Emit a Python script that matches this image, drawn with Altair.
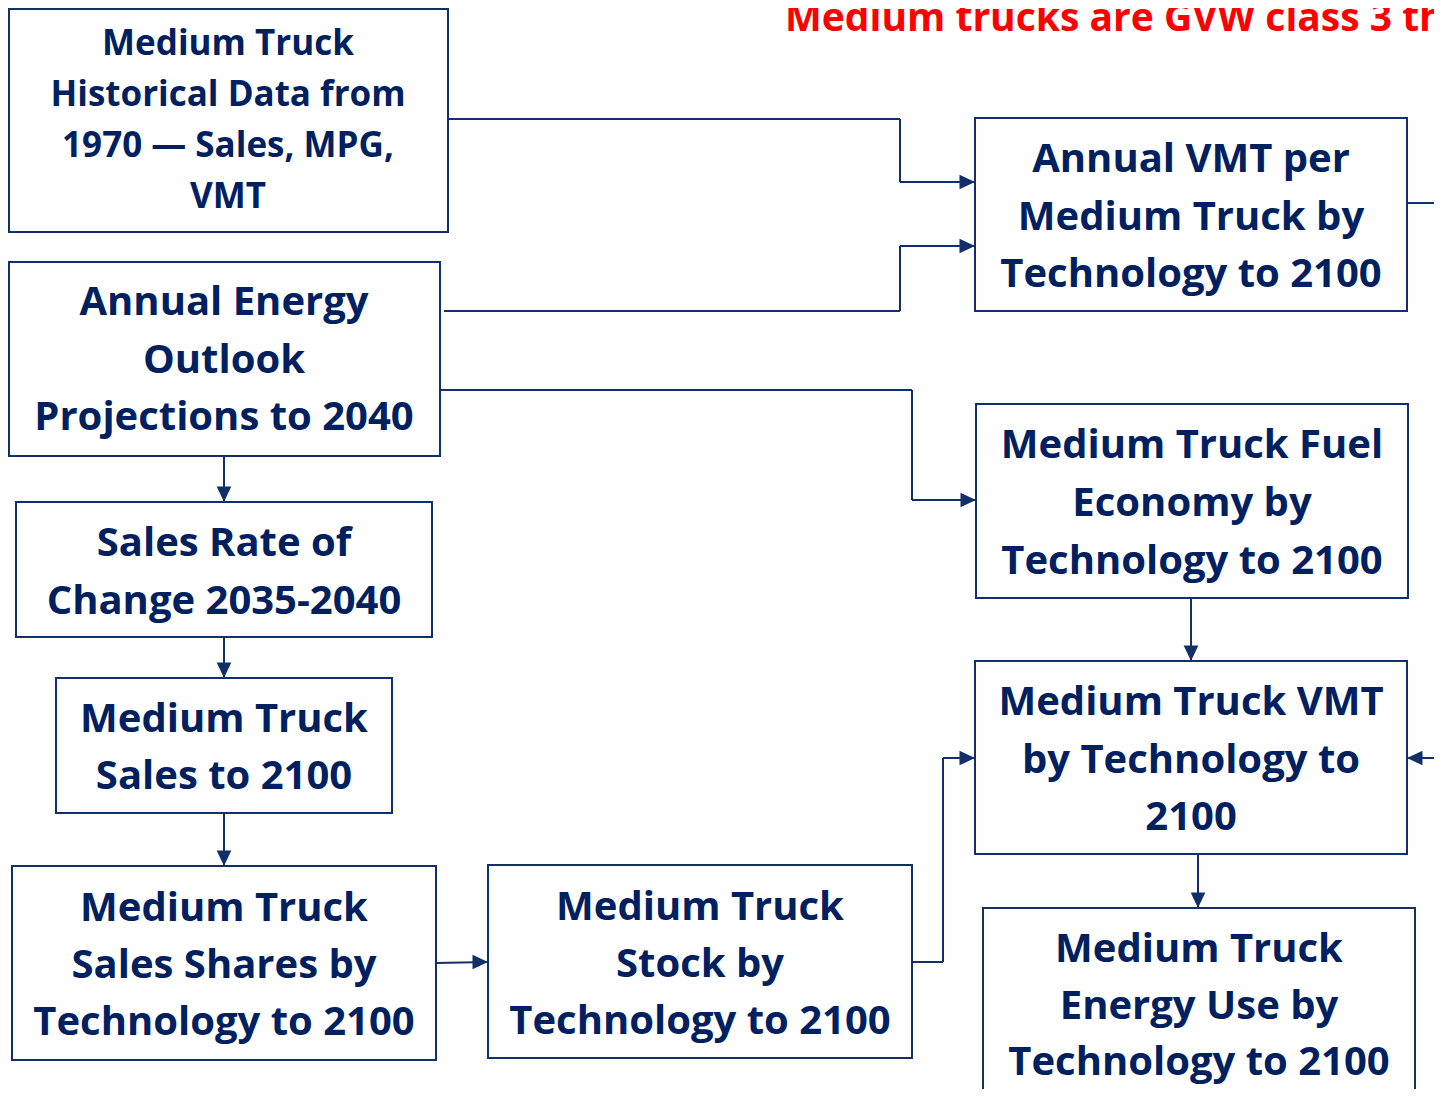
import altair as alt
import pandas as pd

# ---- Boxes (pixel layout of the flowchart) ----
box_x0 = [9, 9, 16, 56, 12, 488, 975, 976, 975, 983]
box_x1 = [448, 440, 432, 392, 436, 912, 1407, 1408, 1407, 1415]
box_y0 = [9, 262, 502, 678, 866, 865, 118, 404, 661, 908]
box_y1 = [232, 456, 637, 813, 1060, 1058, 311, 598, 854, 1120]
box_lines = [
    ["Medium Truck", "Historical Data from", "1970 \u2014 Sales, MPG,", "VMT"],
    ["Annual Energy", "Outlook", "Projections to 2040"],
    ["Sales Rate of", "Change 2035-2040"],
    ["Medium Truck", "Sales to 2100"],
    ["Medium Truck", "Sales Shares by", "Technology to 2100"],
    ["Medium Truck", "Stock by", "Technology to 2100"],
    ["Annual VMT per", "Medium Truck by", "Technology to 2100"],
    ["Medium Truck Fuel", "Economy by", "Technology to 2100"],
    ["Medium Truck VMT", "by Technology to", "2100"],
    ["Medium Truck", "Energy Use by", "Technology to 2100"],
]
text_cx = [228, 224, 224, 224, 224, 700, 1191, 1192, 1191, 1199]
text_base0 = [55, 315, 556, 732, 921, 920, 172, 458, 715, 962]
text_gap = [51, 57.5, 58, 57, 57, 57, 57.5, 58, 57.5, 56.5]
text_size = [35, 40, 40, 40, 40, 40, 40, 40, 40, 40]

# ---- Connectors: polylines, last point is where the arrow tip is ----
conn_points = [
    [(448, 119), (900, 119), (900, 182), (975, 182)],
    [(444, 311), (900, 311), (900, 246), (975, 246)],
    [(440, 390), (912, 390), (912, 500), (976, 500)],
    [(224, 456), (224, 502)],
    [(224, 637), (224, 678)],
    [(224, 813), (224, 866)],
    [(436, 963), (488, 962)],
    [(912, 962), (943, 962), (943, 758), (975, 758)],
    [(1191, 598), (1191, 661)],
    [(1198, 854), (1198, 908)],
    [(1407, 203), (1450, 203)],
    [(1450, 758), (1407, 758)],
]
conn_arrow = ["right", "right", "right", "down", "down", "down", "right", "right",
              "down", "down", None, "left"]

title_text = "Medium trucks are GVW class 3 through 6"
title_x = 785
title_y = 31

NAVY_TEXT = "#002060"
NAVY_LINE = "#132f6b"
FONT = "Open Sans"

boxes = pd.DataFrame({"x0": box_x0, "x1": box_x1, "y0": box_y0, "y1": box_y1})

rows = []
for i, lines in enumerate(box_lines):
    for j, ln in enumerate(lines):
        rows.append({"x": text_cx[i], "y": text_base0[i] + j * text_gap[i],
                     "t": ln, "size": text_size[i]})
texts = pd.DataFrame(rows)

segs = []
arrows = []
for pts, arr in zip(conn_points, conn_arrow):
    for (ax, ay), (bx, by) in zip(pts[:-1], pts[1:]):
        segs.append({"x": ax, "y": ay, "x2": bx, "y2": by})
    if arr:
        arrows.append({"x": pts[-1][0], "y": pts[-1][1], "dir": arr})
segs = pd.DataFrame(segs)
arrows = pd.DataFrame(arrows)

W, H = 1426, 1081
XS = alt.Scale(domain=[8, 8 + W])
YS = alt.Scale(domain=[8, 8 + H], reverse=True)


def X(f="x"):
    return alt.X(f"{f}:Q", scale=XS, axis=None)


def Y(f="y"):
    return alt.Y(f"{f}:Q", scale=YS, axis=None)


rect = alt.Chart(boxes).mark_rect(fill="white", stroke=NAVY_LINE, strokeWidth=2).encode(
    x=X("x0"), x2="x1:Q", y=Y("y0"), y2="y1:Q")

rules = alt.Chart(segs).mark_rule(color=NAVY_LINE, strokeWidth=2).encode(
    x=X("x"), y=Y("y"), x2="x2:Q", y2="y2:Q")

shape_paths = {
    "right": "M0,0L-2,-0.95L-2,0.95Z",
    "left": "M0,0L2,-0.95L2,0.95Z",
    "down": "M0,0L-0.95,-2L0.95,-2Z",
}
arrow_layers = []
for d, p in shape_paths.items():
    sub = arrows[arrows["dir"] == d]
    if len(sub):
        arrow_layers.append(
            alt.Chart(sub).mark_point(shape=p, filled=True, size=240, opacity=1,
                                      color=NAVY_LINE, strokeWidth=0).encode(
                x=X("x"), y=Y("y")))

layers = [rules, rect] + arrow_layers

for s in sorted(set(text_size)):
    sub = texts[texts["size"] == s]
    layers.append(
        alt.Chart(sub).mark_text(font=FONT, fontWeight="bold", fontSize=s, color=NAVY_TEXT,
                                 align="center", baseline="alphabetic").encode(
            x=X("x"), y=Y("y"), text="t:N"))

title_df = pd.DataFrame({"x": [title_x], "y": [title_y], "t": [title_text]})
layers.append(
    alt.Chart(title_df).mark_text(font=FONT, fontWeight="bold", fontSize=39, color="#FF0000",
                                  align="left", baseline="alphabetic").encode(
        x=X("x"), y=Y("y"), text="t:N"))

chart = alt.layer(*layers).properties(
    width=W, height=H, padding=0, autosize=alt.AutoSizeParams(type="none"),
    background="white"
).configure_view(stroke=None)

chart.save("out.html", embed_options={"renderer": "svg", "actions": False})
